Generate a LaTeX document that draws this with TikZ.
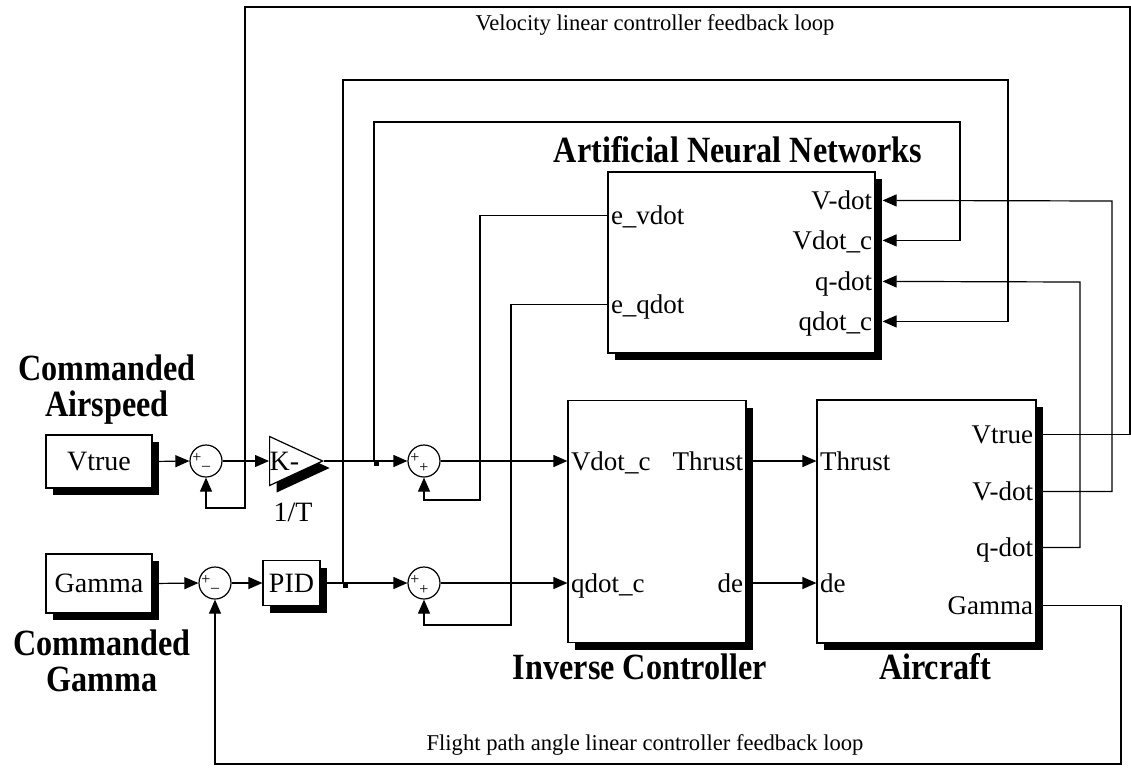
\documentclass[tikz,border=0pt]{standalone}
\usepackage{fontspec}
\setmainfont{Liberation Serif}
\usetikzlibrary{arrows.meta,shapes.geometric,shadows,calc}

\newcommand{\narrow}[1]{\scalebox{0.87}[1]{#1}}

\begin{document}
\begin{tikzpicture}[x=0.5pt,y=-0.5pt,line width=0.6pt]

\tikzset{block/.style={draw, fill=white, inner sep=0pt,
    drop shadow={shadow xshift=3.5pt, shadow yshift=-3.5pt, fill=black, opacity=1}},
  sumnode/.style={draw, circle, fill=white, minimum size=16pt, inner sep=0pt},
  sign/.style={font=\fontsize{8}{8}\selectfont, inner sep=0pt},
  port/.style={font=\fontsize{13.5}{15}\selectfont, inner sep=0pt,
    anchor=base west, xshift=1.5pt, yshift=-4.5pt},
  portr/.style={port, anchor=base east, xshift=-3pt},
  srctext/.style={font=\fontsize{14}{16}\selectfont},
  title/.style={font=\fontsize{18.5}{18}\bfseries, align=center, inner sep=0pt},
  looplabel/.style={font=\fontsize{11.3}{13}\selectfont},
  sig/.style={-{Triangle[length=7pt,width=6pt]}},
  jdot/.style={fill, inner sep=0pt, minimum size=2.5pt}}

\useasboundingbox (0,0) rectangle (1131,768);

% sources, summers, gain and PID
\node[block, srctext, minimum width=53pt, minimum height=26.5pt] (vsrc) at (99,461.5) {Vtrue};
\node[block, srctext, minimum width=53pt, minimum height=29.5pt] (gsrc) at (99,583.5) {Gamma};
\node[sumnode] (sumv) at (206,461) {};
\node[sumnode] (sumg) at (215,583) {};
\node[sumnode] (sumvd) at (424,461) {};
\node[sumnode] (sumqd) at (424,583) {};
\node[block, isosceles triangle, isosceles triangle stretches,
  minimum width=24.5pt, minimum height=26.5pt, anchor=lower side] (gain) at (269,461) {};
\node[srctext, inner sep=0pt, anchor=west] (gaink) at (269,461) {K-};
\node[srctext] (gaint) at (293,512) {1/T};
\node[block, srctext, minimum width=28.5pt, minimum height=22.5pt] (pid) at (291.5,583) {PID};

\foreach \s in {sumv,sumg}{
  \node[sign] (\s-a) at ($(\s)+(-9,-3)$) {+};
  \node[sign] (\s-b) at ($(\s)+(0,7)$) {--};
}
\foreach \s in {sumvd,sumqd}{
  \node[sign] (\s-a) at ($(\s)+(-9,-3)$) {+};
  \node[sign] (\s-b) at ($(\s)+(0,7)$) {+};
}

% main blocks
\node[block, minimum width=133.5pt, minimum height=90.5pt] (ann) at (741.5,262.5) {};
\node[block, minimum width=89pt, minimum height=121pt] (inv) at (657,521.5) {};
\node[block, minimum width=109.5pt, minimum height=121.5pt] (acft) at (926.5,521.5) {};

% ports
\coordinate (ann-ev) at ($(ann.north west)+(0,44)$);
\coordinate (ann-eq) at ($(ann.north west)+(0,133)$);
\coordinate (ann-vd) at ($(ann.north east)+(0,29)$);
\coordinate (ann-vc) at ($(ann.north east)+(0,69)$);
\coordinate (ann-qd) at ($(ann.north east)+(0,110)$);
\coordinate (ann-qc) at ($(ann.north east)+(0,150)$);
\coordinate (inv-vc) at (inv.west |- sumvd);
\coordinate (inv-qc) at (inv.west |- sumqd);
\coordinate (inv-th) at (inv.east |- sumvd);
\coordinate (inv-de) at (inv.east |- sumqd);
\coordinate (acft-th) at (acft.west |- sumvd);
\coordinate (acft-de) at (acft.west |- sumqd);
\coordinate (acft-vt) at ($(acft.north east)+(0,35)$);
\coordinate (acft-vd) at ($(acft.north east)+(0,92)$);
\coordinate (acft-qd) at ($(acft.north east)+(0,148)$);
\coordinate (acft-gm) at ($(acft.north east)+(0,206)$);

\node[port] (ann-ev-t) at (ann-ev) {e\_vdot};
\node[port] (ann-eq-t) at (ann-eq) {e\_qdot};
\node[portr] (ann-vd-t) at (ann-vd) {V-dot};
\node[portr] (ann-vc-t) at (ann-vc) {Vdot\_c};
\node[portr] (ann-qd-t) at (ann-qd) {q-dot};
\node[portr] (ann-qc-t) at (ann-qc) {qdot\_c};
\node[port] (inv-vc-t) at (inv-vc) {Vdot\_c};
\node[port] (inv-qc-t) at (inv-qc) {qdot\_c};
\node[portr] (inv-th-t) at (inv-th) {Thrust};
\node[portr] (inv-de-t) at (inv-de) {de};
\node[port] (acft-th-t) at (acft-th) {Thrust};
\node[port] (acft-de-t) at (acft-de) {de};
\node[portr] (acft-vt-t) at (acft-vt) {Vtrue};
\node[portr] (acft-vd-t) at (acft-vd) {V-dot};
\node[portr] (acft-qd-t) at (acft-qd) {q-dot};
\node[portr] (acft-gm-t) at (acft-gm) {Gamma};

% titles
\node[title] (cmdv) at (107,390) {\narrow{Commanded}\\\narrow{Airspeed}};
\node[title] (cmdg) at (102,661) {\narrow{Commanded}\\\narrow{Gamma}};
\node[title] (anntitle) at (738,150) {\narrow{Artificial Neural Networks}};
\node[title] (invtitle) at (640,667) {\narrow{Inverse Controller}};
\node[title] (acfttitle) at (935,667) {\narrow{Aircraft}};
\node[looplabel] (vloop) at (655,25) {Velocity linear controller feedback loop};
\node[looplabel] (gloop) at (645,745) {Flight path angle linear controller feedback loop};

% forward paths
\coordinate (brv) at (374,461);
\coordinate (brg) at (343,583);
\draw[sig] (vsrc.east) -- (sumv.west);
\draw[sig] (sumv.east) -- (gain.lower side);
\draw[sig] (gain.apex) -- (sumvd.west);
\draw[sig] (gsrc.east) -- (sumg.west);
\draw[sig] (sumg.east) -- (pid.west);
\draw[sig] (pid.east) -- (sumqd.west);
\draw[sig] (sumvd.east) -- (inv-vc);
\draw[sig] (sumqd.east) -- (inv-qc);
\draw[sig] (inv-th) -- (acft-th);
\draw[sig] (inv-de) -- (acft-de);
\node[jdot] (brv-d) at ($(brv)+(2.5,2)$) {};
\node[jdot] (brg-d) at ($(brg)+(2.5,2)$) {};

% network error outputs
\draw[sig] (ann-ev) -| (480,500) -| (sumvd.south);
\draw[sig] (ann-eq) -| (511,625) -| (sumqd.south);

% network inputs
\draw[sig] (brv) |- (960,122) |- ([xshift=3.5pt]ann-vc);
\draw[sig] (brg) |- (1008,80) |- ([xshift=3.5pt]ann-qc);
\draw[sig] (acft-vd) -| (1112,201) -- ([xshift=3.5pt]ann-vd);
\draw[sig] (acft-qd) -| (1080,282) -- ([xshift=3.5pt]ann-qd);

% outer feedback loops
\draw[sig] (acft-vt) -| (1130,7) -| (245,508) -| (sumv.south);
\draw[sig] (acft-gm) -| (1121,764) -| (sumg.south);

\end{tikzpicture}
\end{document}
